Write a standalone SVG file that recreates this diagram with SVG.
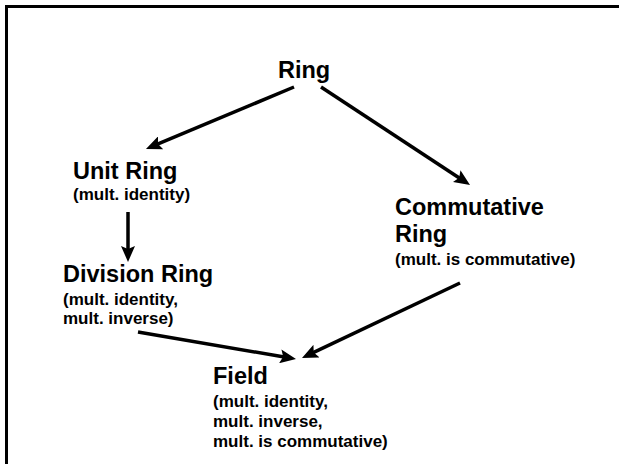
<svg xmlns="http://www.w3.org/2000/svg" width="619" height="464" viewBox="0 0 619 464">
  <style>
    .t { font-family: "Liberation Sans", Arial, sans-serif; font-weight: bold; font-size: 23.5px; fill: #000; }
    .s { font-family: "Liberation Sans", Arial, sans-serif; font-weight: bold; font-size: 17px; fill: #000; }
    .c { stroke: #000; stroke-width: 3.5; fill: none; marker-end: url(#ah); }
  </style>
  <defs>
    <marker id="ah" markerUnits="userSpaceOnUse" markerWidth="16" markerHeight="14" refX="10" refY="7" orient="auto">
      <path d="M0,0 L16,7 L0,14 L3,7 z" fill="#000"/>
    </marker>
  </defs>
  <rect x="0" y="0" width="619" height="464" fill="#fff"/>
  <rect x="6.5" y="6.5" width="700" height="600" fill="none" stroke="#000" stroke-width="3"/>

  <g id="connectors">
    <line class="c" x1="294" y1="87" x2="151.5" y2="146.7"/>
    <line class="c" x1="321" y1="87" x2="465" y2="181.7"/>
    <line class="c" x1="128" y1="212" x2="128" y2="256"/>
    <line class="c" x1="138" y1="332" x2="290.1" y2="358"/>
    <line class="c" x1="460" y1="283" x2="307.4" y2="355.4"/>
  </g>

  <g id="ring">
    <text class="t" x="278" y="78">Ring</text>
  </g>
  <g id="unit-ring">
    <text class="t" x="73" y="179">Unit Ring</text>
    <text class="s" x="73" y="200">(mult. identity)</text>
  </g>
  <g id="commutative-ring">
    <text class="t" x="395" y="215">Commutative</text>
    <text class="t" x="395" y="242">Ring</text>
    <text class="s" x="395" y="265">(mult. is commutative)</text>
  </g>
  <g id="division-ring">
    <text class="t" x="63" y="282">Division Ring</text>
    <text class="s" x="63" y="305">(mult. identity,</text>
    <text class="s" x="63" y="324">mult. inverse)</text>
  </g>
  <g id="field">
    <text class="t" x="213" y="384">Field</text>
    <text class="s" x="213" y="407">(mult. identity,</text>
    <text class="s" x="213" y="427">mult. inverse,</text>
    <text class="s" x="213" y="447">mult. is commutative)</text>
  </g>
</svg>
